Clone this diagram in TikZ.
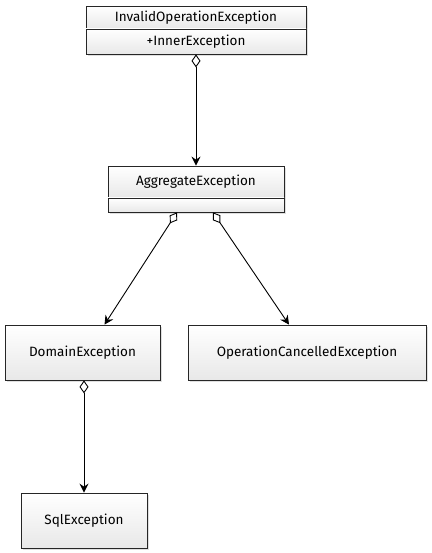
\documentclass[tikz,border=0pt]{standalone}
\usepackage{fontspec}
\setmainfont{Fira Sans}
\usetikzlibrary{
    arrows.meta,
    shapes,
    shadows,
    positioning
}
\tikzset{
    classbox/.style={draw=black!85, line width=0.8pt, rectangle, inner sep=0pt,
        top color=white, bottom color=black!9,
        drop shadow={opacity=0.25, shadow xshift=2pt, shadow yshift=-2pt},
        font=\fontsize{13.5}{15}\selectfont},
    assoc/.style={line width=0.9pt,
        {Diamond[open, length=13pt, width=9pt]}-{Stealth[length=9pt, width=9pt, inset=3pt]}}
}

\begin{document}
\begin{tikzpicture}[x=1pt, y=-1pt]
    \useasboundingbox (0,0) rectangle (431,553);
    \node[classbox, minimum width=220pt, minimum height=23pt] (invalid) at (196, 17.5) {InvalidOperationException};
    \node[classbox, minimum width=220pt, minimum height=25pt] (invalidattr) at (196, 41.5) {+InnerException};
    \node[classbox, minimum width=176pt, minimum height=32pt] (aggregate) at (196, 182) {AggregateException};
    \node[classbox, minimum width=176pt, minimum height=14pt] (aggregateattr) at (196, 205) {};
    \node[classbox, minimum width=155pt, minimum height=55pt] (domain) at (82.5, 352.5) {DomainException};
    \node[classbox, minimum width=238pt, minimum height=55pt] (cancelled) at (307, 352.5) {OperationCancelledException};
    \node[classbox, minimum width=126pt, minimum height=55pt] (sql) at (84, 520.5) {SqlException};

    \draw
    (invalidattr.south) edge[assoc] (aggregate.north)
    ([xshift=-19pt]aggregateattr.south) edge[assoc] ([xshift=22pt]domain.north)
    ([xshift=17pt]aggregateattr.south) edge[assoc] ([xshift=-18pt]cancelled.north)
    ([xshift=1.5pt]domain.south) edge[assoc] (sql.north);
\end{tikzpicture}
\end{document}
